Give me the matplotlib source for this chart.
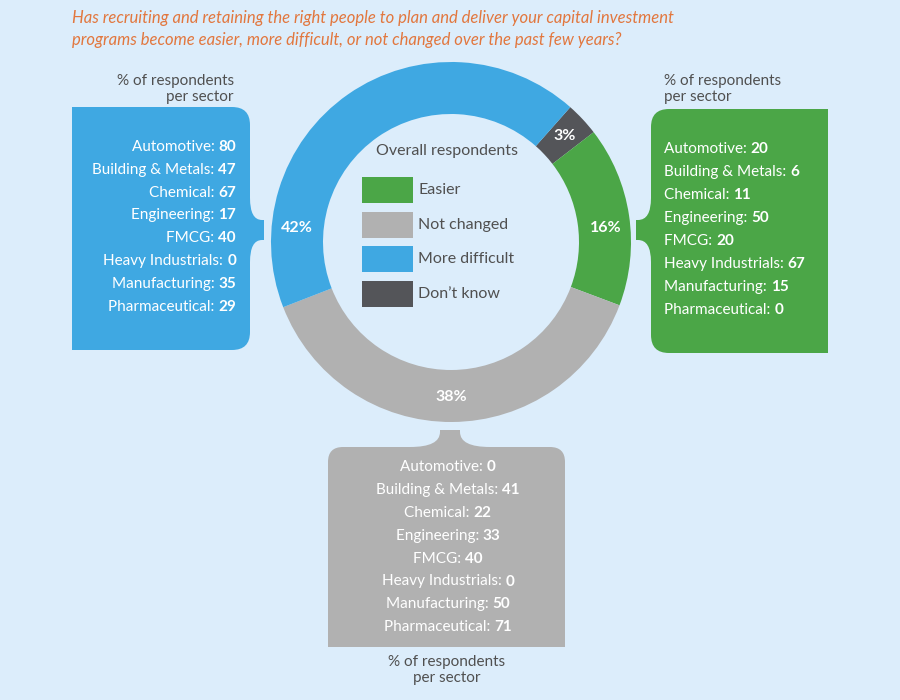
import matplotlib
matplotlib.use('Agg')
import matplotlib.pyplot as plt
from matplotlib.path import Path
from matplotlib.patches import PathPatch, Rectangle

plt.rcParams['font.family'] = ['Lato', 'DejaVu Sans']

# data
sectors = ['Automotive', 'Building & Metals', 'Chemical', 'Engineering',
           'FMCG', 'Heavy Industrials', 'Manufacturing', 'Pharmaceutical']
easier = [20, 6, 11, 50, 20, 67, 15, 0]
not_changed = [0, 41, 22, 33, 40, 0, 50, 71]
more_difficult = [80, 47, 67, 17, 40, 0, 35, 29]

overall_labels = ['Easier', 'Not changed', 'More difficult', 'Don\u2019t know']
overall_pct = [16, 38, 42, 3]

title = ('Has recruiting and retaining the right people to plan and deliver your capital investment\n'
         'programs become easier, more difficult, or not changed over the past few years?')
sub_label = '% of respondents\nper sector'

# colours
bg = '#dcedfb'
green = '#4ba647'
grey = '#b1b1b1'
blue = '#3fa8e2'
dark = '#545559'
orange = '#e2773e'
txt = '#505050'
cols = [green, grey, blue, dark]

fig = plt.figure(figsize=(9, 7), dpi=100, facecolor=bg)
ax = fig.add_axes([0, 0, 1, 1])
ax.set_xlim(0, 900)
ax.set_ylim(700, 0)
ax.axis('off')
ax.set_facecolor(bg)
renderer = fig.canvas.get_renderer()

# title
ax.text(72, 29, title, color=orange, fontsize=12, style='italic',
        ha='left', va='center', linespacing=1.45)

# donut, drawn clockwise starting at Don't know
order = [3, 0, 1, 2]
ax.pie([overall_pct[i] for i in order], colors=[cols[i] for i in order],
       center=(451, 242), radius=180, startangle=-48.5, counterclock=True,
       wedgeprops=dict(width=52, linewidth=0), frame=True)
ax.set_xlim(0, 900)
ax.set_ylim(700, 0)
ax.set_aspect('equal')
ax.axis('off')

import numpy as np
# percent labels (angle clockwise from top, degrees)
lab_ang = {0: 85, 1: 180, 2: 275, 3: 47}
for i, a in lab_ang.items():
    t = np.radians(a)
    ax.text(451 + 155 * np.sin(t), 242 - 155 * np.cos(t), f'{overall_pct[i]}%',
            color='white', fontsize=11.5, fontweight='bold', ha='center', va='center')

# legend in middle
ax.text(447, 151, 'Overall respondents', color=txt, fontsize=11.5, ha='center', va='center')
for k, lab in enumerate(overall_labels):
    y0 = 177 + k * 34.5
    ax.add_patch(Rectangle((362, y0), 51, 26, facecolor=cols[k], edgecolor='none'))
    ax.text(418, y0 + 13, lab, color=txt, fontsize=11.5, ha='left', va='center')


def brace_box(L, D, tc, tw, th, f, fh, r, to_xy, color):
    pts = [(0, D), (0, r), (0, 0), (r, 0),
           (tc - tw - f, 0), (tc - tw, 0), (tc - tw, -fh),
           (tc - tw, -th), (tc + tw, -th), (tc + tw, -fh),
           (tc + tw, 0), (tc + tw + f, 0),
           (L - r, 0), (L, 0), (L, r), (L, D), (0, D)]
    codes = [Path.MOVETO, Path.LINETO, Path.CURVE3, Path.CURVE3,
             Path.LINETO, Path.CURVE3, Path.CURVE3,
             Path.LINETO, Path.LINETO, Path.LINETO,
             Path.CURVE3, Path.CURVE3,
             Path.LINETO, Path.CURVE3, Path.CURVE3, Path.LINETO, Path.CLOSEPOLY]
    verts = [to_xy(u, v) for u, v in pts]
    ax.add_patch(PathPatch(Path(verts, codes), facecolor=color, edgecolor='none'))


brace_box(243, 178, 123, 10, 14, 22, 12, 18, lambda u, v: (250 - v, 107 + u), blue)
brace_box(244, 177, 121, 10, 15, 22, 13, 18, lambda u, v: (651 + v, 109 + u), green)
brace_box(237, 200, 122, 10, 17, 30, 15, 15, lambda u, v: (328 + u, 447 + v), grey)


def width_of(t):
    return t.get_window_extent(renderer).width


def rich_line(x, y, label, val, ha):
    a = ax.text(0, y, label + ': ', color='white', fontsize=11, va='center', ha='left')
    b = ax.text(0, y, str(val), color='white', fontsize=11, fontweight='bold',
                va='center', ha='left')
    wa, wb = width_of(a), width_of(b)
    if ha == 'right':
        x0 = x - wa - wb
    elif ha == 'center':
        x0 = x - (wa + wb) / 2
    else:
        x0 = x
    a.set_x(x0)
    b.set_x(x0 + wa)


for k, s in enumerate(sectors):
    rich_line(236, 147 + k * 22.8, s, more_difficult[k], 'right')
    rich_line(664, 149 + k * 23, s, easier[k], 'left')
    rich_line(448, 467 + k * 22.9, s, not_changed[k], 'center')

ax.text(234, 89, sub_label, color=txt, fontsize=11, ha='right', va='center', linespacing=1.2)
ax.text(664, 89, sub_label, color=txt, fontsize=11, ha='left', va='center', linespacing=1.2)
ax.text(447, 670, sub_label, color=txt, fontsize=11, ha='center', va='center', linespacing=1.2)

fig.savefig('out.png', dpi=100, facecolor=bg)
